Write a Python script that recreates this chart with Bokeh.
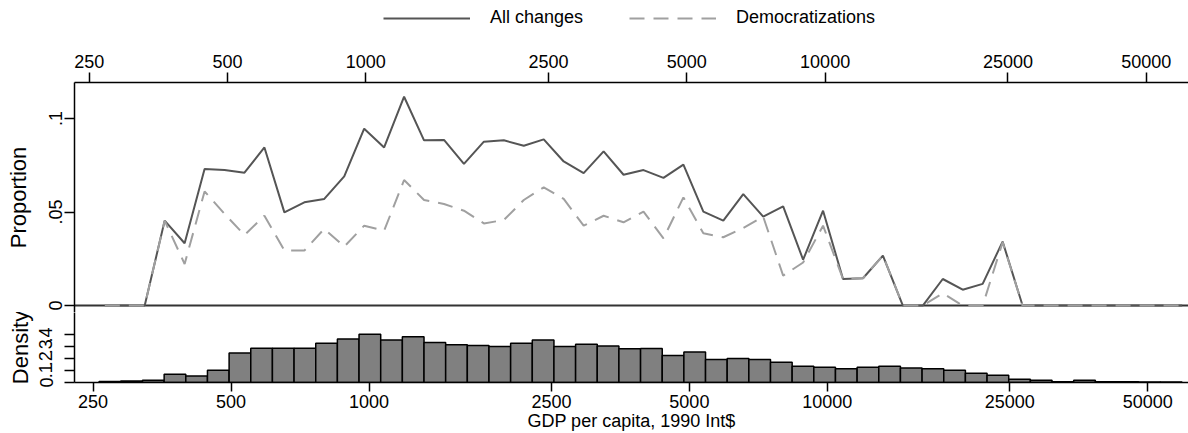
import numpy as np
from bokeh.plotting import figure
from bokeh.layouts import column
from bokeh.models import Range1d, FixedTicker, Span, Legend, LegendItem, BasicTickFormatter
from bokeh.embed import file_html
from bokeh.resources import INLINE

# ---- data -------------------------------------------------------------
# evaluation points (log GDP per capita) for the proportion lines
ln_gdp = [5.6, 5.7, 5.8, 5.9, 6.0, 6.1, 6.2, 6.3, 6.4, 6.5, 6.6, 6.7, 6.8, 6.9,
          7.0, 7.1, 7.2, 7.3, 7.4, 7.5, 7.6, 7.7, 7.8, 7.9, 8.0, 8.1, 8.2, 8.3,
          8.4, 8.5, 8.6, 8.7, 8.8, 8.9, 9.0, 9.1, 9.2, 9.3, 9.4, 9.5, 9.6, 9.7,
          9.8, 9.9, 10.0, 10.1, 10.2, 10.3, 10.4, 10.5, 10.6, 10.7, 10.8, 10.9, 11.0]
all_changes = [0, 0, 0, .0454, .0333, .0730, .0724, .0710, .0845, .0498, .0552, .0570,
               .0690, .0945, .0845, .1116, .0883, .0885, .0757, .0876, .0883, .0854,
               .0888, .0770, .0708, .0824, .0699, .0724, .0682, .0753, .0502, .0454,
               .0596, .0475, .0530, .0245, .0507, .0142, .0146, .0267, 0, 0, .0142,
               .0085, .0116, .0342, 0, 0, 0, 0, 0, 0, 0, 0, 0]
democratizations = [0, 0, 0, .0454, .0222, .0610, .0490, .0377, .0480, .0294, .0294, .0410,
                    .0315, .0427, .0400, .0671, .0564, .0543, .0507, .0439, .0457, .0564,
                    .0632, .0570, .0427, .0480, .0445, .0502, .0359, .0578, .0386, .0365,
                    .0415, .0475, .0160, .0230, .0427, .0142, .0146, .0267, 0, 0, .0066,
                    0, 0, .0338, 0, 0, 0, 0, 0, 0, 0, 0, 0]

# histogram of log GDP per capita (50 bins)
hist_ln_min = 5.552
hist_ln_max = 10.992
hist_density = [.008, .013, .019, .069, .055, .104, .248, .289, .289, .289,
                .331, .366, .405, .358, .385, .336, .317, .311, .303, .331,
                .358, .303, .322, .308, .283, .286, .228, .256, .193, .201,
                .193, .170, .137, .129, .116, .129, .137, .121, .116, .104,
                .077, .060, .027, .019, .006, .019, .006, .006, .004, .004]

series_names = ["All changes", "Democratizations"]
gdp_ticks = [250, 500, 1000, 2500, 5000, 10000, 25000, 50000]
prop_ticks = [0, 0.05, 0.1]
prop_labels = ["0", ".05", ".1"]
dens_ticks = [0, 0.1, 0.2, 0.3, 0.4]
dens_labels = ["0", ".1", ".2", ".3", ".4"]

FONT = "Liberation Sans"
W = 1188
SOLID = dict(line_color="#555555", line_width=2)
DASHED = dict(line_color="#a0a0a0", line_width=2, line_dash="15 9")

gdp = np.exp(np.array(ln_gdp))
edges = np.exp(np.linspace(hist_ln_min, hist_ln_max, len(hist_density) + 1))


def style_axis(ax, ticks, size="18px"):
    ax.ticker = FixedTicker(ticks=ticks)
    ax.major_label_text_font = FONT
    ax.major_label_text_font_size = size
    ax.major_label_text_color = "black"
    ax.axis_line_color = "black"
    ax.axis_line_width = 1.5
    ax.major_tick_line_color = "black"
    ax.major_tick_line_width = 1.5
    ax.major_tick_out = 10
    ax.major_tick_in = 0
    ax.minor_tick_line_color = None
    ax.axis_label_text_font = FONT
    ax.axis_label_text_font_style = "normal"
    ax.axis_label_text_color = "black"


# ---- legend strip (series drawn out of view, only the keys show) -------
leg = figure(width=W, height=40, x_range=Range1d(0, 1), y_range=Range1d(0, 1),
             x_axis_location=None, y_axis_location=None,
             output_backend="svg", toolbar_location=None,
             min_border_left=74, min_border_right=0, min_border_top=0,
             min_border_bottom=0)
leg.outline_line_color = None
leg.grid.visible = False
k_all = leg.line(gdp, all_changes, **SOLID)
k_dem = leg.line(gdp, democratizations, **DASHED)
legend = Legend(items=[LegendItem(label=series_names[0], renderers=[k_all]),
                       LegendItem(label=series_names[1], renderers=[k_dem])],
                orientation="horizontal", location=(309, 12),
                border_line_color=None, background_fill_alpha=0,
                label_text_font=FONT, label_text_font_size="18px",
                label_text_color="black",
                glyph_width=87, glyph_height=20, label_standoff=20,
                spacing=46, padding=0, margin=0)
leg.add_layout(legend, "center")

# ---- top panel ----------------------------------------------------------
top = figure(width=W, height=272, x_axis_type="log", x_axis_location="above",
             x_range=Range1d(232.3, 61800), y_range=Range1d(-0.0037, 0.1192),
             output_backend="svg", toolbar_location=None,
             min_border_left=74, min_border_right=0, min_border_top=42,
             min_border_bottom=0)
top.outline_line_color = None
top.grid.visible = False

zero = Span(location=0, dimension="width", line_color="#333333", line_width=2,
            level="underlay")
top.add_layout(zero)

top.line(gdp, all_changes, **SOLID)
top.line(gdp, democratizations, **DASHED)

xa = top.xaxis[0]
style_axis(xa, gdp_ticks)
xa.formatter = BasicTickFormatter(use_scientific=False)
xa.major_label_standoff = 5

ya = top.yaxis[0]
style_axis(ya, prop_ticks)
ya.major_label_overrides = dict(zip(prop_ticks, prop_labels))
ya.major_label_orientation = "vertical"
ya.major_label_standoff = 2
ya.axis_label = "Proportion"
ya.axis_label_text_font_size = "22px"
ya.axis_label_standoff = 16

# ---- bottom panel -------------------------------------------------------
bot = figure(width=W, height=121, x_axis_type="log",
             x_range=Range1d(227.7, 61380), y_range=Range1d(0, 0.589),
             output_backend="svg", toolbar_location=None,
             min_border_left=74, min_border_right=0, min_border_top=0,
             min_border_bottom=50)
bot.outline_line_color = None
bot.grid.visible = False

bot.quad(left=edges[:-1], right=edges[1:], bottom=0, top=hist_density,
         fill_color="#808080", line_color="black", line_width=1.5)

bx = bot.xaxis[0]
style_axis(bx, gdp_ticks)
bx.formatter = BasicTickFormatter(use_scientific=False)
bx.major_label_standoff = 3
bx.major_tick_out = 9
bx.axis_label = "GDP per capita, 1990 Int$"
bx.axis_label_text_font_size = "18px"
bx.axis_label_standoff = 0

by = bot.yaxis[0]
style_axis(by, dens_ticks)
by.major_label_overrides = dict(zip(dens_ticks, dens_labels))
by.major_label_orientation = "vertical"
by.major_label_standoff = 12
by.axis_label = "Density"
by.axis_label_text_font_size = "22px"
by.axis_label_standoff = 4

layout = column(leg, top, bot, spacing=0)
open("out.html", "w").write(file_html(layout, INLINE))
